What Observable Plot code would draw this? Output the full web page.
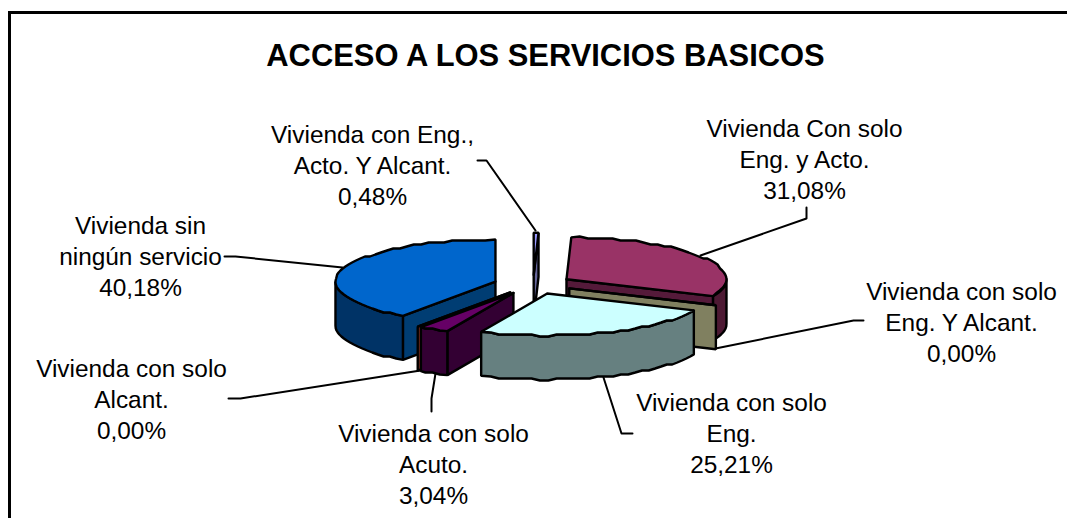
<!DOCTYPE html>
<html><head><meta charset="utf-8">
<script src="https://cdn.jsdelivr.net/npm/d3@7"></script>
<script src="https://cdn.jsdelivr.net/npm/@observablehq/plot@0.6"></script>
<style>html,body{margin:0;padding:0;background:#fff;overflow:hidden}</style>
</head><body><div id="chart"></div>
<script>
const title = "ACCESO A LOS SERVICIOS BASICOS";
const categories = ["Vivienda con Eng.,\nActo. Y Alcant.","Vivienda Con solo\nEng. y Acto.","Vivienda con solo\nEng. Y Alcant.","Vivienda con solo\nEng.","Vivienda con solo\nAcuto.","Vivienda con solo\nAlcant.","Vivienda sin\nningún servicio"];
const values = [0.48,31.08,0.00,25.21,3.04,0.00,40.18];
const percentLabels = ["0,48%","31,08%","0,00%","25,21%","3,04%","0,00%","40,18%"];
const topColors  = ["#9999FF","#993366","#808060","#CCFFFF","#660066","#804020","#0066CC"];
const faceColors = ["#66669A","#551A3A","#808060","#668080","#330033","#803020","#003D73"];
const rimColors  = ["#4D4D80","#4D1933","#606048","#668080","#330033","#602010","#003366"];

// pie geometry (pixels of the plot scales)
const W = 1067, H = 518;
const geo = {cx:532.6, cy:284, a:160, b:42, depth:44, ex:39.5, ey:9.7};
// label anchors and leader polylines
const labelX = [372,804,961,731,433,131,140];
const labelY = [164,158,321,432,463,398,255];
const leaders = [
 [[477,160],[486,160],[535,230]],
 [[806,207],[806,218],[700,255]],
 [[863,320],[853,320],[715,348]],
 [[632,433],[621,433],[603,377]],
 [[431,411],[431,398],[435,373]],
 [[228,398],[240,398],[420,370]],
 [[224,256],[235,256],[342,267]]
];

const arcs = d3.pie().sort(null).value(d=>d)(values);
const rad = Math.PI/180;
const faces = [];
const order = d3.range(values.length).sort((i,j)=>{
  const m=k=>(arcs[k].startAngle+arcs[k].endAngle)/2;
  return Math.cos(m(j))-Math.cos(m(i));
});
for (const i of order) {
  const s=arcs[i].startAngle, e=arcs[i].endAngle, m=(s+e)/2;
  const ax=geo.cx+geo.ex*Math.sin(m), ay=geo.cy-geo.ey*Math.cos(m);
  const rim=t=>[ax+geo.a*Math.sin(t), ay-geo.b*Math.cos(t)];
  // the rim is lightly stair-stepped in the original rendering
  const stepped=t=>{const p=rim(t);return [p[0],Math.round(p[1]/2)*2];};
  const push=(name,fill,pts)=>{
    const k=i+name;
    [...pts,pts[0]].forEach(p=>faces.push({k,fill,x:p[0],y:p[1]}));
  };
  const down=p=>[p[0],p[1]+geo.depth];
  const radial=(t,n)=>{const r=rim(t); push(n,faceColors[i],[[ax,ay],r,down(r),[ax,ay+geo.depth]]);};
  const samples=(a,b)=>{const ts=d3.range(a+3*rad,b-rad,3*rad);return [rim(a),...ts.map(stepped),rim(b)];};
  if (Math.sin(s)<-1e-6) radial(s,"s");
  if (Math.sin(e)>1e-6) radial(e,"e");
  const r0=Math.max(s,Math.PI/2), r1=Math.min(e,3*Math.PI/2);
  if (r1>r0) {
    const top=samples(r0,r1);
    push("r",rimColors[i],[...top,...top.map(down).reverse()]);
  }
  if (e>s) {
    push("t",topColors[i],[[ax,ay],...samples(s,e)]);
  } else {
    push("t",topColors[i],[[ax,ay],rim(s)]);
  }
}
const leaderRows = leaders.flatMap((l,i)=>l.map(p=>({i,x:p[0],y:p[1]})));
const labelRows = categories.map((c,i)=>({t:c+"\n"+percentLabels[i],x:labelX[i],y:labelY[i]}));

const chart = Plot.plot({
  width:W, height:H, margin:0,
  x:{domain:[0,W],range:[0,W],axis:null},
  y:{domain:[0,H],range:[0,H],axis:null},
  style:{fontFamily:"'Liberation Sans',Arial,sans-serif",background:"#fff"},
  marks:[
    Plot.ruleX([9],{y1:12,y2:H,stroke:"#000",strokeWidth:3}),
    Plot.ruleY([12],{x1:8,x2:W,stroke:"#000",strokeWidth:3}),
    Plot.line(leaderRows,{x:"x",y:"y",z:"i",stroke:"#000",strokeWidth:2}),
    Plot.line(faces,{x:"x",y:"y",z:"k",fill:"fill",stroke:"#000",strokeWidth:2.4,strokeLinejoin:"miter"}),
    Plot.text(labelRows,{x:"x",y:"y",text:"t",fontSize:24.4,lineHeight:1.27,fill:"#000"}),
    Plot.text([title],{x:()=>545,y:()=>56,fontSize:30.9,fontWeight:"bold",fill:"#000"})
  ]
});
document.getElementById("chart").appendChild(chart);
</script></body></html>
